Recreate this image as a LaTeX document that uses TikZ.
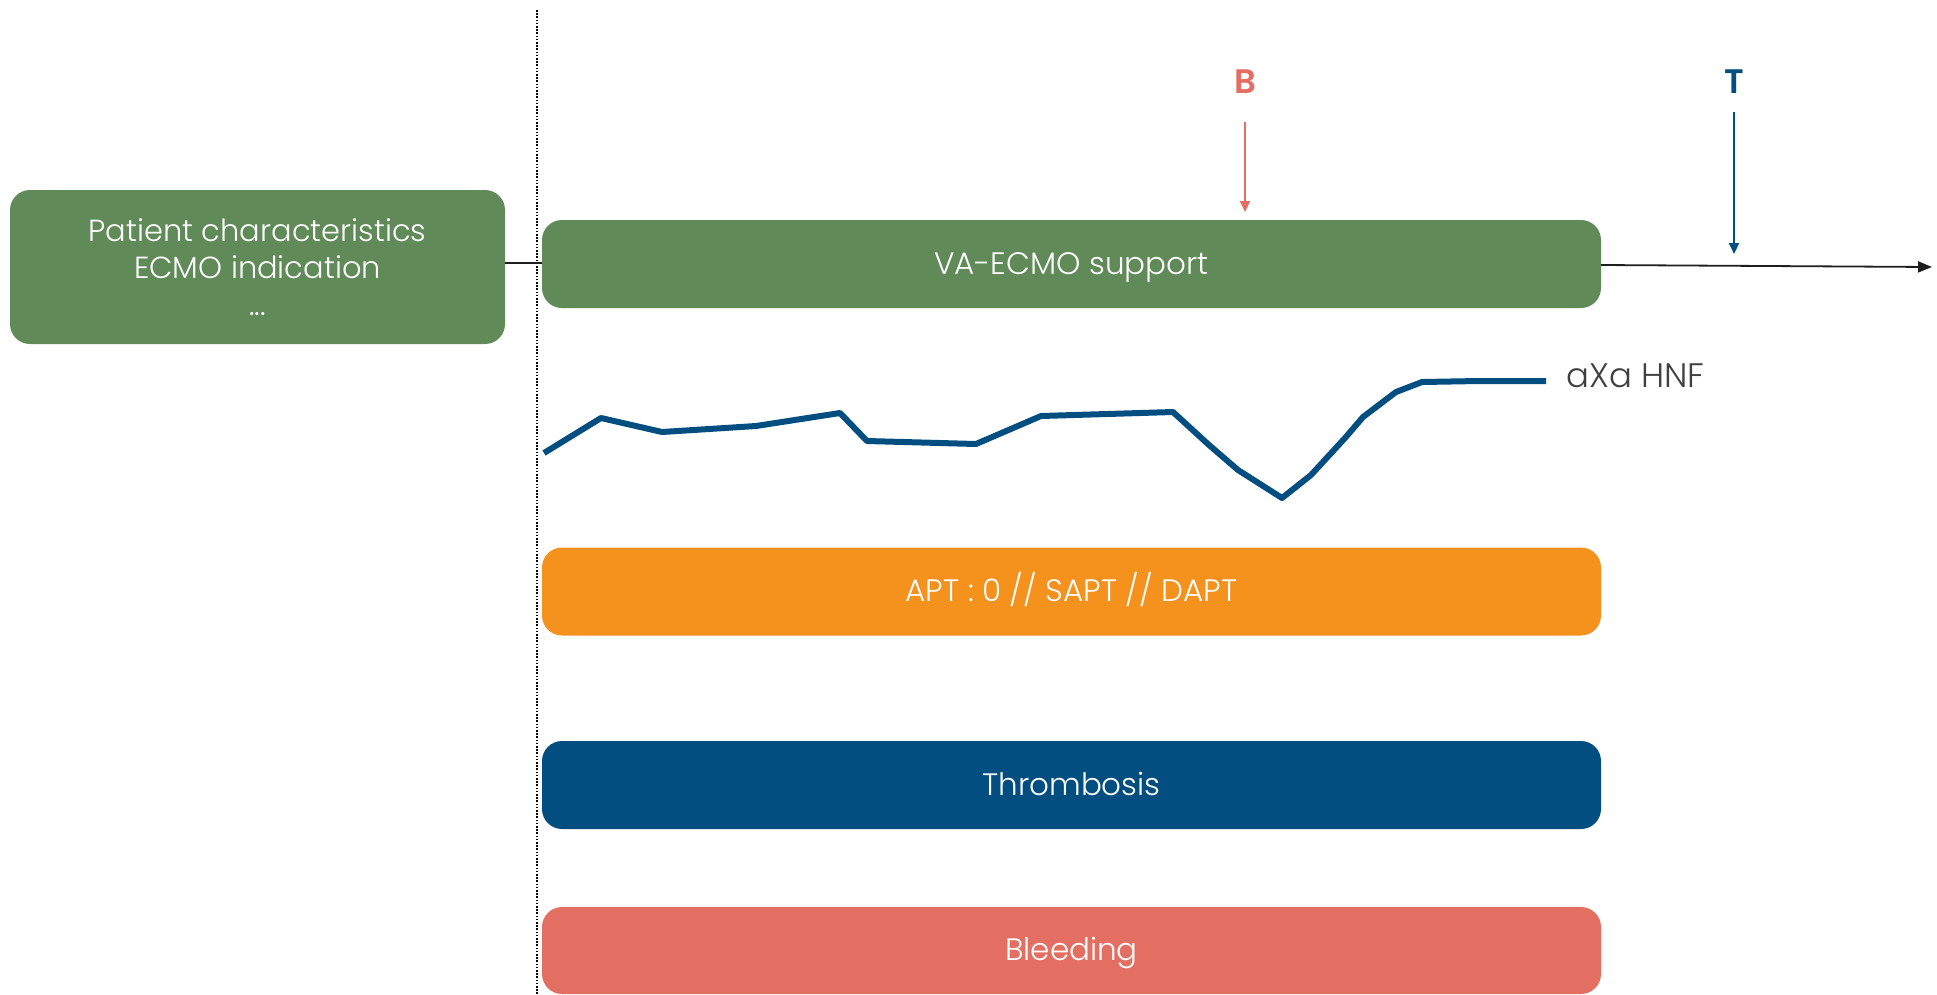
\documentclass[tikz,border=0pt]{standalone}
\usepackage{fontspec}
\setmainfont{Poppins}[UprightFont={* Light},BoldFont={* SemiBold}]
\usetikzlibrary{arrows.meta}
\definecolor{ecmogreen}{HTML}{608A58}
\definecolor{aptorange}{HTML}{F5921E}
\definecolor{thrblue}{HTML}{034E80}
\definecolor{bleedred}{HTML}{E36E62}
\definecolor{labelgray}{HTML}{404040}
\definecolor{axisblack}{HTML}{1E1E1E}
\begin{document}
\begin{tikzpicture}[x=1pt,y=-1pt,
  bar/.style={rectangle, rounded corners=20pt, fill=#1, text=white,
    minimum width=1059pt, minimum height=88pt, inner sep=0pt,
    text height=20pt, text depth=0pt,
    font=\fontsize{31}{37}\selectfont},
  infobox/.style={rectangle, rounded corners=20pt, fill=ecmogreen, text=white,
    minimum width=495pt, minimum height=154pt, inner sep=0pt, align=center,
    font=\fontsize{30.5}{37}\selectfont},
  marker/.style={font=\bfseries\fontsize{34}{40}\selectfont},
  event/.style={line width=2pt, -{Triangle[length=11pt,width=10pt]}},
  axis/.style={axisblack, line width=1.8pt},
]
\useasboundingbox (0,0) rectangle (1937,994);

% baseline separator
\coordinate (septop) at (537,10);
\coordinate (sepbot) at (537,994);
\draw[black, line width=1.4pt, dash pattern=on 1.6pt off 1.6pt] (septop) -- (sepbot);

% boxes
\node[infobox] (patient) at (257.5,267) {Patient characteristics\\ECMO indication\\...};
\node[bar=ecmogreen] (support) at (1071.5,264) {VA-ECMO support};
\node[bar=aptorange] (apt) at (1071.5,591.5) {APT : 0 // SAPT // DAPT};
\node[bar=thrblue] (thromb) at (1071.5,785) {Thrombosis};
\node[bar=bleedred, minimum height=87pt] (bleed) at (1071.5,950.5) {Bleeding};

% time axis
\draw[axis] (patient.east |- 0,263) -- (support.west |- 0,263);
\coordinate (axisend) at (1932,267);
\draw[axis, -{Triangle[length=14pt,width=11pt]}] (support.east |- 0,265) -- (axisend);

% events
\node[marker, text=bleedred] (blab) at (1245,82) {B};
\coordinate (bstart) at (1245,122);
\coordinate (bend) at (1245,212);
\draw[event, bleedred] (bstart) -- (bend);

\node[marker, text=thrblue] (tlab) at (1734,82) {T};
\coordinate (tstart) at (1734,112);
\coordinate (tend) at (1734,254);
\draw[event, thrblue] (tstart) -- (tend);

% anti-Xa curve
\draw[thrblue, line width=6pt, line join=round] plot coordinates {
  (544,453) (601,418) (662,432) (756,426) (840,413) (867,441) (976,444)
  (1041,416) (1173,412) (1209,445) (1238,470) (1282,498) (1311,475)
  (1345,438) (1363,417) (1396,392) (1422,382) (1479,381) (1546,381)};
\node[anchor=west, text=labelgray, font=\fontsize{34}{40}\selectfont, inner sep=0pt] (axa) at (1566,376) {aXa HNF};
\end{tikzpicture}
\end{document}
